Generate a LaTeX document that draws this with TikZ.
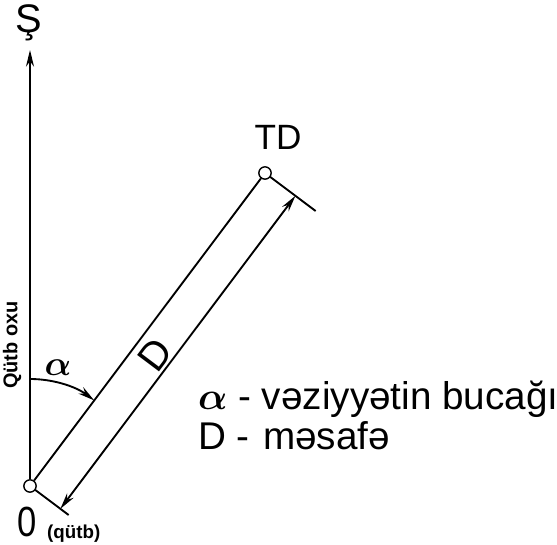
\RequirePackage{fix-cm}
\documentclass[tikz,border=0pt]{standalone}
\usepackage{fontspec}
\setmainfont{Liberation Sans}
\usetikzlibrary{arrows.meta,calc}

\begin{document}
\begin{tikzpicture}[
  x=0.03cm, y=0.03cm,
  >={Stealth[length=0.5cm,width=0.24cm]},
  pnt/.style={circle, draw, fill=white, line width=1.2pt,
              minimum size=0.37cm, inner sep=0pt},
  ln/.style={line width=1.6pt},
  lbl/.style={font=\fontsize{34}{36}\selectfont, inner sep=0pt},
  small/.style={font=\fontsize{16}{17}\selectfont\bfseries, inner sep=0pt},
  legend/.style={font=\fontsize{33}{35}\selectfont, inner sep=0pt, anchor=base west}
]
\useasboundingbox (0,0) rectangle (557,545);

% pole, target point and north
\node[pnt] (O)  at (30,59)  {};
\node[pnt] (TD) at (265,372) {};
\coordinate (N) at (30,495);

\draw[ln,->] (O) -- (N);
\draw[ln] (O) -- (TD);

% dimension ticks
\coordinate (o1) at ($(O)!0.19cm!-90:(TD)$);
\coordinate (o2) at ($(O)!1.45cm!-90:(TD)$);
\coordinate (t1) at ($(TD)!0.19cm!90:(O)$);
\coordinate (t2) at ($(TD)!1.9cm!90:(O)$);
\draw[ln] (o1) -- (o2);
\draw[ln] (t1) -- (t2);
\coordinate (oa) at ($(O)!1.14cm!-90:(TD)$);
\coordinate (ta) at ($(TD)!1.14cm!90:(O)$);
\draw[ln,<->] (oa) -- (ta);

% angle
\coordinate (a0) at ($(O)+(0,107)$);
\draw[ln,->] (a0) arc[start angle=90, end angle=53.1, radius=3.21cm];

\node[lbl, anchor=base] (Sl) at (29,512) {Ş};
\node[lbl, anchor=base, font=\fontsize{30}{32}\selectfont] (TDl) at (278,395) {TD};
\node[lbl, rotate=53.1] (Dl) at (155,190) {D};
\node[lbl, font=\fontsize{30}{32}\selectfont\boldmath] (al) at (58,177) {$\alpha$};
\node[small, rotate=90, font=\fontsize{17}{18}\selectfont\bfseries] (ax) at (12,200) {Qütb oxu};
\node[lbl, anchor=base, xscale=0.82, font=\fontsize{36}{38}\selectfont] (zero) at (27,8) {0};
\node[small, anchor=base west] (pol) at (47,6) {(qütb)};

% legend
\node[legend] (leg1) at (198,135) {{\boldmath$\alpha$} - vəziyyətin bucağı};
\node[legend] (leg2) at (198,95)  {D -\hspace{0.35em}məsafə};
\end{tikzpicture}
\end{document}
